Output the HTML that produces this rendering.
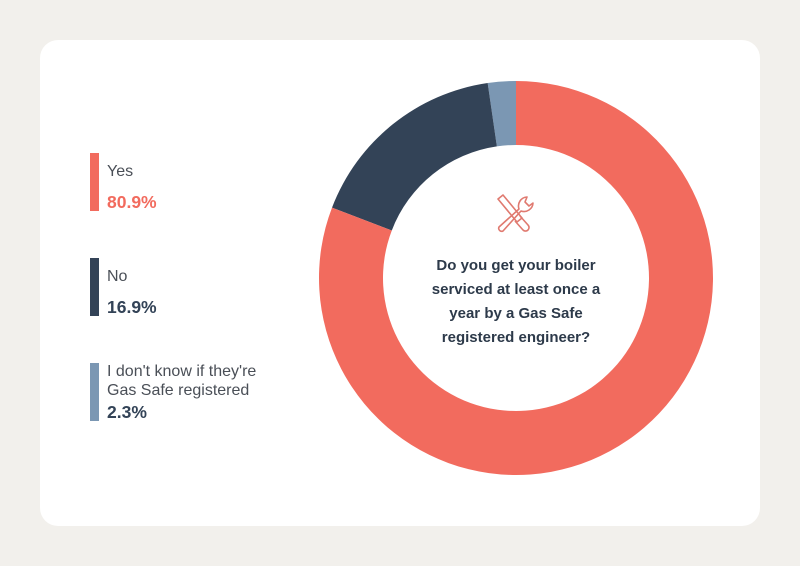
<!DOCTYPE html>
<html><head><meta charset="utf-8"><style>
body{margin:0;width:800px;height:566px;background:#f2f0ec;font-family:"Liberation Sans",sans-serif;position:relative;overflow:hidden}
#card{position:absolute;left:40px;top:40px;width:720px;height:486px;background:#fff;border-radius:18px}
.bar{position:absolute;left:90px;width:9px}
.lab{position:absolute;left:107px;font-size:16px;color:#4a4f57;line-height:19px}
.val{position:absolute;left:107px;font-size:17.5px;font-weight:bold}
</style></head><body>
<div id="card"></div>
<div class="bar" style="top:153px;height:58px;background:#f26b5e"></div>
<div class="lab" style="top:162px">Yes</div>
<div class="val" style="top:192px;color:#f26b5e">80.9%</div>
<div class="bar" style="top:258px;height:58px;background:#334357"></div>
<div class="lab" style="top:267px">No</div>
<div class="val" style="top:297px;color:#334357">16.9%</div>
<div class="bar" style="top:363px;height:58px;background:#7b97b3"></div>
<div class="lab" style="top:362px">I don't know if they're<br>Gas Safe registered</div>
<div class="val" style="top:402px;color:#334357">2.3%</div>
<svg id="chart" width="800" height="566" style="position:absolute;left:0;top:0">
<g fill="none" stroke="#e07a70" stroke-width="1.6" stroke-linejoin="round">
<path d="M498 199 l5 -4 l19 23 l-5 4 z"/>
<path d="M520 216 l8 9 a3 3 0 0 1 -5 5 l-8 -9"/>
<path d="M527 197 a9 9 0 0 0 -8 12 l-20 18 a3 3 0 0 0 4 4 l18 -20 a9 9 0 0 0 12 -8 l-4 3 l-4 -4 z"/>
</g>
<text x="516" y="270" text-anchor="middle" font-size="15" font-weight="bold" fill="#2d3a4a">
<tspan x="516" y="270">Do you get your boiler</tspan><tspan x="516" y="294">serviced at least once a</tspan><tspan x="516" y="318">year by a Gas Safe</tspan><tspan x="516" y="342">registered engineer?</tspan></text>
</svg>
<script>
const categories=["Yes","No","I don't know"];
const values=[80.9,16.9,2.3];
const colors=["#f26b5e","#334357","#7b97b3"];
const svg=document.getElementById('chart');
const cx=516,cy=278,R=197,r=133;
const total=values.reduce((a,b)=>a+b,0);
function pt(rad,f){const a=f*2*Math.PI-Math.PI/2;return [cx+rad*Math.cos(a),cy+rad*Math.sin(a)];}
let acc=0;
values.forEach((v,i)=>{
const f0=acc/total,f1=(acc+v)/total;acc+=v;
const large=(f1-f0)>0.5?1:0;
const [x0,y0]=pt(R,f0),[x1,y1]=pt(R,f1),[x2,y2]=pt(r,f1),[x3,y3]=pt(r,f0);
const p=document.createElementNS("http://www.w3.org/2000/svg","path");
p.setAttribute('d',`M${x0} ${y0}A${R} ${R} 0 ${large} 1 ${x1} ${y1}L${x2} ${y2}A${r} ${r} 0 ${large} 0 ${x3} ${y3}Z`);
p.setAttribute('fill',colors[i]);


svg.insertBefore(p,svg.firstChild);
});
</script>
</body></html>
